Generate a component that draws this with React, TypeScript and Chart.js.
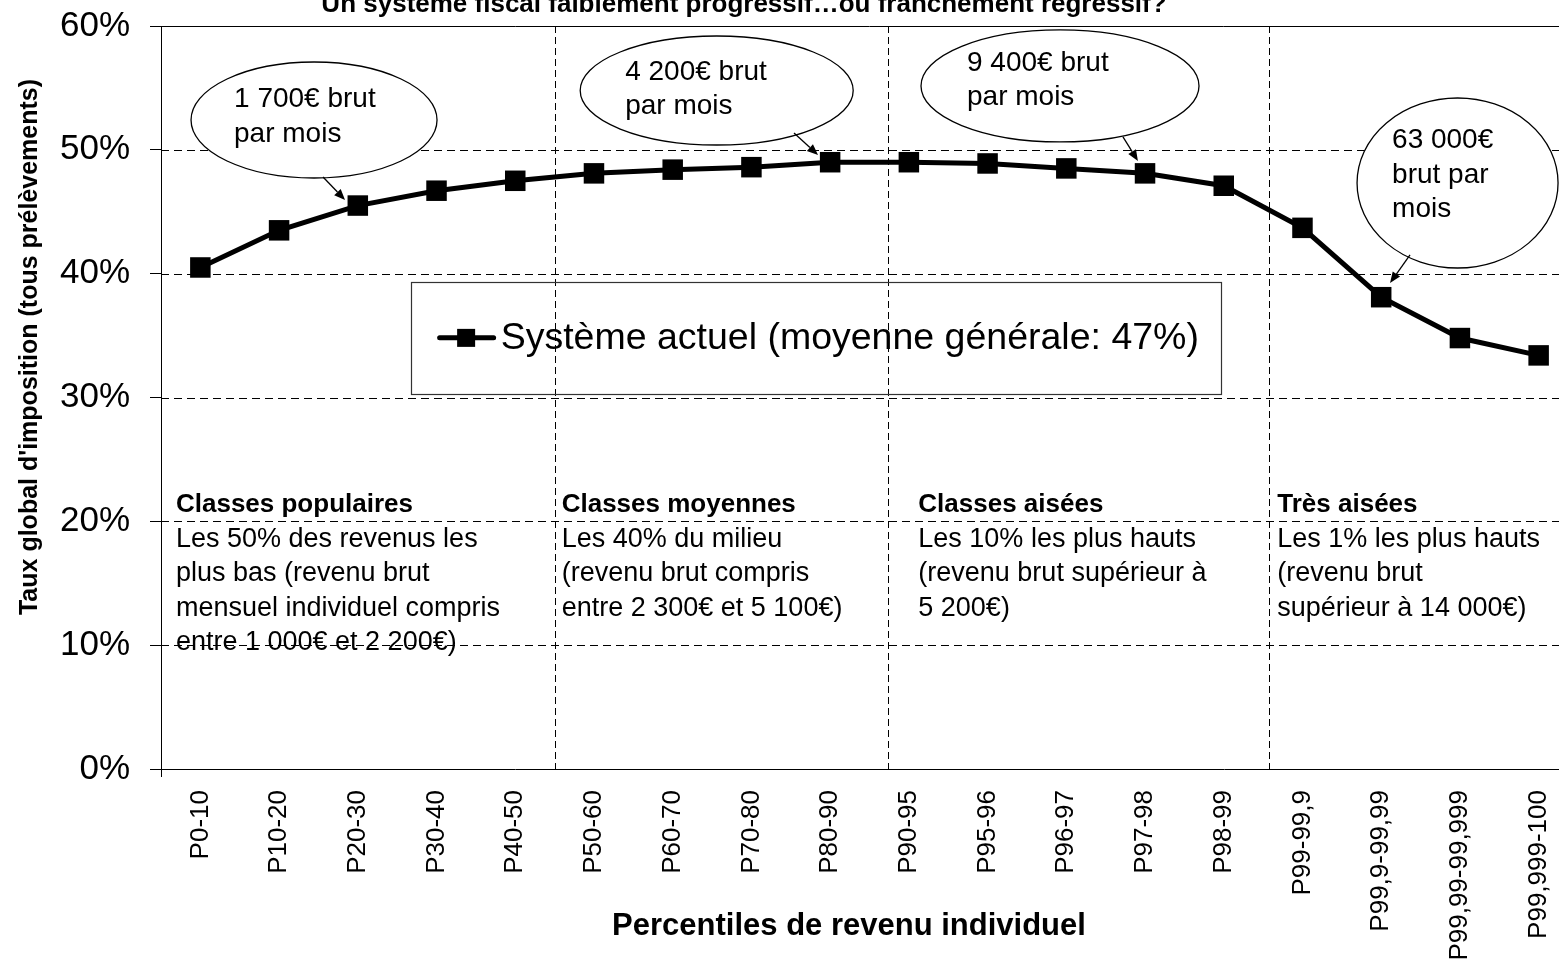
import React, { useEffect, useRef } from 'react';
import { Chart, registerables } from 'chart.js';

Chart.register(...registerables);

// ---------- data ----------
const categories = [
  'P0-10', 'P10-20', 'P20-30', 'P30-40', 'P40-50', 'P50-60', 'P60-70', 'P70-80', 'P80-90',
  'P90-95', 'P95-96', 'P96-97', 'P97-98', 'P98-99', 'P99-99,9', 'P99,9-99,99', 'P99,99-99,999', 'P99,999-100',
];
const tauxActuel = [40.5, 43.5, 45.5, 46.7, 47.5, 48.1, 48.4, 48.6, 49.0, 49.0, 48.9, 48.5, 48.1, 47.1, 43.7, 38.1, 34.8, 33.4];
const yTicks = [0, 10, 20, 30, 40, 50, 60];
const seriesLabel = 'Système actuel (moyenne générale: 47%)';
const chartTitle = 'Un système fiscal faiblement progressif…ou franchement régressif?';
const yTitle = "Taux global d'imposition (tous prélèvements)";
const xTitle = 'Percentiles de revenu individuel';

// group separators (category-index positions)
const groupSeparators = [4.5, 8.73, 13.58];
const groupHeadings = ['Classes populaires', 'Classes moyennes', 'Classes aisées', 'Très aisées'];
const groupTexts = [
  ['Les 50% des revenus les', 'plus bas (revenu brut', 'mensuel individuel compris', 'entre 1 000€ et 2 200€)'],
  ['Les 40% du milieu', '(revenu brut compris', 'entre 2 300€ et 5 100€)'],
  ['Les 10% les plus hauts', '(revenu brut supérieur à', '5 200€)'],
  ['Les 1% les plus hauts', '(revenu brut', 'supérieur à 14 000€)'],
];
const groupTextStart = [-0.31, 4.59, 9.12, 13.68];
const groupHeadingValue = 20.75;

// callouts: ellipse centre & arrow given in (category index, value)
const calloutLines = [
  ['1 700€ brut', 'par mois'],
  ['4 200€ brut', 'par mois'],
  ['9 400€ brut', 'par mois'],
  ['63 000€', 'brut par', 'mois'],
];
const calloutCentre = [[1.444, 52.41], [6.559, 54.79], [10.92, 55.16], [15.97, 47.32]];
const calloutArrowTail = [[1.558, 47.81], [7.541, 51.36], [11.72, 51.04], [15.366, 41.51]];
const calloutArrowTip = [[1.838, 45.95], [7.846, 49.58], [11.91, 49.10], [15.112, 39.25]];

// legend box in (category index, value)
const legendBox = { left: 2.671, right: 12.959, top: 39.35, bottom: 30.28 };

const FONT = '"Liberation Sans", Arial, Helvetica, sans-serif';

// ---------- styles (not data) ----------
const calloutStyle = [
  { rx: 123, ry: 58, dx: -80, dy: -13, lh: 35 },
  { rx: 136.5, ry: 54.5, dx: -91.5, dy: -10.5, lh: 34 },
  { rx: 139, ry: 56, dx: -93, dy: -15, lh: 34 },
  { rx: 100.5, ry: 85, dx: -65.5, dy: -35, lh: 34.5 },
];

function drawArrow(ctx: CanvasRenderingContext2D, x1: number, y1: number, x2: number, y2: number) {
  const ang = Math.atan2(y2 - y1, x2 - x1);
  const len = 11;
  const hw = 4.5;
  const bx = x2 - len * Math.cos(ang);
  const by = y2 - len * Math.sin(ang);
  ctx.beginPath();
  ctx.moveTo(x1, y1);
  ctx.lineTo(bx, by);
  ctx.stroke();
  ctx.beginPath();
  ctx.moveTo(x2, y2);
  ctx.lineTo(bx + hw * Math.sin(ang), by - hw * Math.cos(ang));
  ctx.lineTo(bx - hw * Math.sin(ang), by + hw * Math.cos(ang));
  ctx.closePath();
  ctx.fill();
}

const decorPlugin = {
  id: 'decor',
  beforeDatasetsDraw(chart: any) {
    const { ctx, chartArea: a } = chart;
    const xs = chart.scales.x;
    const ys = chart.scales.y;
    ctx.save();
    ctx.strokeStyle = '#000';
    ctx.fillStyle = '#000';
    ctx.lineWidth = 1;

    // dashed horizontal gridlines
    ctx.setLineDash([8, 5]);
    yTicks.forEach((t) => {
      if (t === yTicks[0] || t === yTicks[yTicks.length - 1]) return;
      const py = Math.round(ys.getPixelForValue(t)) + 0.5;
      ctx.beginPath();
      ctx.moveTo(a.left, py);
      ctx.lineTo(a.right, py);
      ctx.stroke();
    });
    // dashed vertical separators
    ctx.setLineDash([7, 4]);
    groupSeparators.forEach((s) => {
      const px = Math.round(xs.getPixelForValue(s)) + 0.5;
      ctx.beginPath();
      ctx.moveTo(px, a.top);
      ctx.lineTo(px, a.bottom);
      ctx.stroke();
    });
    ctx.setLineDash([]);
    // solid top line at max
    const topY = Math.round(ys.getPixelForValue(yTicks[yTicks.length - 1])) + 0.5;
    ctx.beginPath();
    ctx.moveTo(a.left, topY);
    ctx.lineTo(a.right, topY);
    ctx.stroke();
    // small extension of the y axis below 0
    const ax = Math.round(a.left) + 0.5;
    ctx.beginPath();
    ctx.moveTo(ax, a.bottom);
    ctx.lineTo(ax, a.bottom + 8);
    ctx.stroke();

    // group texts
    groupHeadings.forEach((h, g) => {
      const x = xs.getPixelForValue(groupTextStart[g]);
      const base = ys.getPixelForValue(groupHeadingValue);
      ctx.textAlign = 'left';
      ctx.textBaseline = 'alphabetic';
      ctx.font = `bold 26px ${FONT}`;
      ctx.fillText(h, x, base);
      ctx.font = `27px ${FONT}`;
      groupTexts[g].forEach((line, k) => {
        ctx.fillText(line, x, base + 34.5 * (k + 1));
      });
    });

    // legend box
    const lx1 = xs.getPixelForValue(legendBox.left);
    const lx2 = xs.getPixelForValue(legendBox.right);
    const ly1 = ys.getPixelForValue(legendBox.top);
    const ly2 = ys.getPixelForValue(legendBox.bottom);
    ctx.strokeStyle = '#333';
    ctx.lineWidth = 1.2;
    ctx.strokeRect(Math.round(lx1) + 0.5, Math.round(ly1) + 0.5, Math.round(lx2 - lx1), Math.round(ly2 - ly1));
    const ds = chart.data.datasets[0];
    const cy = (ly1 + ly2) / 2;
    ctx.strokeStyle = ds.borderColor;
    ctx.lineWidth = ds.borderWidth;
    ctx.lineCap = 'round';
    ctx.beginPath();
    ctx.moveTo(lx1 + 29, cy);
    ctx.lineTo(lx1 + 83, cy);
    ctx.stroke();
    ctx.lineCap = 'butt';
    ctx.fillStyle = ds.pointBackgroundColor;
    ctx.fillRect(lx1 + 55.5 - 9, cy - 9, 18, 18);
    ctx.fillStyle = '#000';
    ctx.font = `37.5px ${FONT}`;
    ctx.textBaseline = 'middle';
    ctx.fillText(ds.label, lx1 + 90, cy + 1);

    // callouts
    calloutLines.forEach((lines, c) => {
      const st = calloutStyle[c];
      const cx = xs.getPixelForValue(calloutCentre[c][0]);
      const cyy = ys.getPixelForValue(calloutCentre[c][1]);
      ctx.beginPath();
      ctx.ellipse(cx, cyy, st.rx, st.ry, 0, 0, Math.PI * 2);
      ctx.fillStyle = '#fff';
      ctx.fill();
      ctx.strokeStyle = '#000';
      ctx.lineWidth = 1.3;
      ctx.stroke();
      ctx.fillStyle = '#000';
      ctx.font = `28px ${FONT}`;
      ctx.textAlign = 'left';
      ctx.textBaseline = 'alphabetic';
      lines.forEach((l, k) => ctx.fillText(l, cx + st.dx, cyy + st.dy + st.lh * k));
      const tx = xs.getPixelForValue(calloutArrowTail[c][0]);
      const ty = ys.getPixelForValue(calloutArrowTail[c][1]);
      const hx = xs.getPixelForValue(calloutArrowTip[c][0]);
      const hy = ys.getPixelForValue(calloutArrowTip[c][1]);
      ctx.lineWidth = 1.3;
      drawArrow(ctx, tx, ty, hx, hy);
    });
    ctx.restore();
  },
  afterDraw(chart: any) {
    const { ctx } = chart;
    ctx.save();
    ctx.fillStyle = '#000';
    // chart title (partly cut at the top of the page)
    ctx.font = `bold 26px ${FONT}`;
    ctx.textAlign = 'center';
    ctx.textBaseline = 'alphabetic';
    ctx.fillText(chartTitle, 744, 12);
    // x axis title
    ctx.font = `bold 31px ${FONT}`;
    ctx.textBaseline = 'middle';
    ctx.fillText(xTitle, 849, 926);
    // y axis title
    ctx.translate(30, 347);
    ctx.rotate(-Math.PI / 2);
    ctx.font = `bold 25px ${FONT}`;
    ctx.fillText(yTitle, 0, 0);
    ctx.restore();
  },
};

export default function App() {
  const ref = useRef<HTMLCanvasElement>(null);
  useEffect(() => {
    document.body.style.margin = '0';
    document.body.style.overflow = 'hidden';
    document.documentElement.style.overflow = 'hidden';
    const chart = new Chart(ref.current as HTMLCanvasElement, {
      type: 'line',
      data: {
        labels: categories,
        datasets: [
          {
            label: seriesLabel,
            data: tauxActuel,
            borderColor: '#000',
            backgroundColor: '#000',
            borderWidth: 5,
            pointStyle: 'rect',
            pointRadius: 14.5,
            pointHoverRadius: 14.5,
            pointBorderWidth: 0,
            pointBackgroundColor: '#000',
            tension: 0,
            fill: false,
            clip: false,
          } as any,
        ],
      },
      options: {
        animation: false,
        responsive: false,
        events: [],
        layout: { padding: { top: 26, right: 22, bottom: 0, left: 0 } },
        plugins: {
          legend: { display: false },
          title: { display: false },
          tooltip: { enabled: false },
        },
        scales: {
          x: {
            type: 'category',
            offset: true,
            grid: { display: false },
            border: { display: true, color: '#000', width: 1 },
            ticks: {
              minRotation: 90,
              maxRotation: 90,
              autoSkip: false,
              padding: 13,
              color: '#000',
              font: { family: FONT, size: 26 },
            },
            afterFit: (s: any) => {
              s.height = 193;
              s.paddingLeft = 0;
              s.paddingRight = 0;
            },
          },
          y: {
            min: yTicks[0],
            max: yTicks[yTicks.length - 1],
            afterBuildTicks: (s: any) => {
              s.ticks = yTicks.map((v) => ({ value: v }));
            },
            ticks: {
              padding: 20,
              color: '#000',
              font: { family: FONT, size: 35 },
              callback: (v: any) => `${v}%`,
            },
            grid: { drawOnChartArea: false, drawTicks: true, tickLength: 11, color: '#000' },
            border: { display: true, color: '#000', width: 1 },
            afterFit: (s: any) => {
              s.width = 161;
              s.paddingTop = 0;
              s.paddingBottom = 0;
            },
          },
        },
      } as any,
      plugins: [decorPlugin],
    });
    return () => chart.destroy();
  }, []);
  return (
    <div style={{ width: 1600, height: 962, overflow: 'hidden' }}>
      <canvas ref={ref} width={1600} height={962} style={{ display: 'block', width: 1600, height: 962 }} />
    </div>
  );
}
